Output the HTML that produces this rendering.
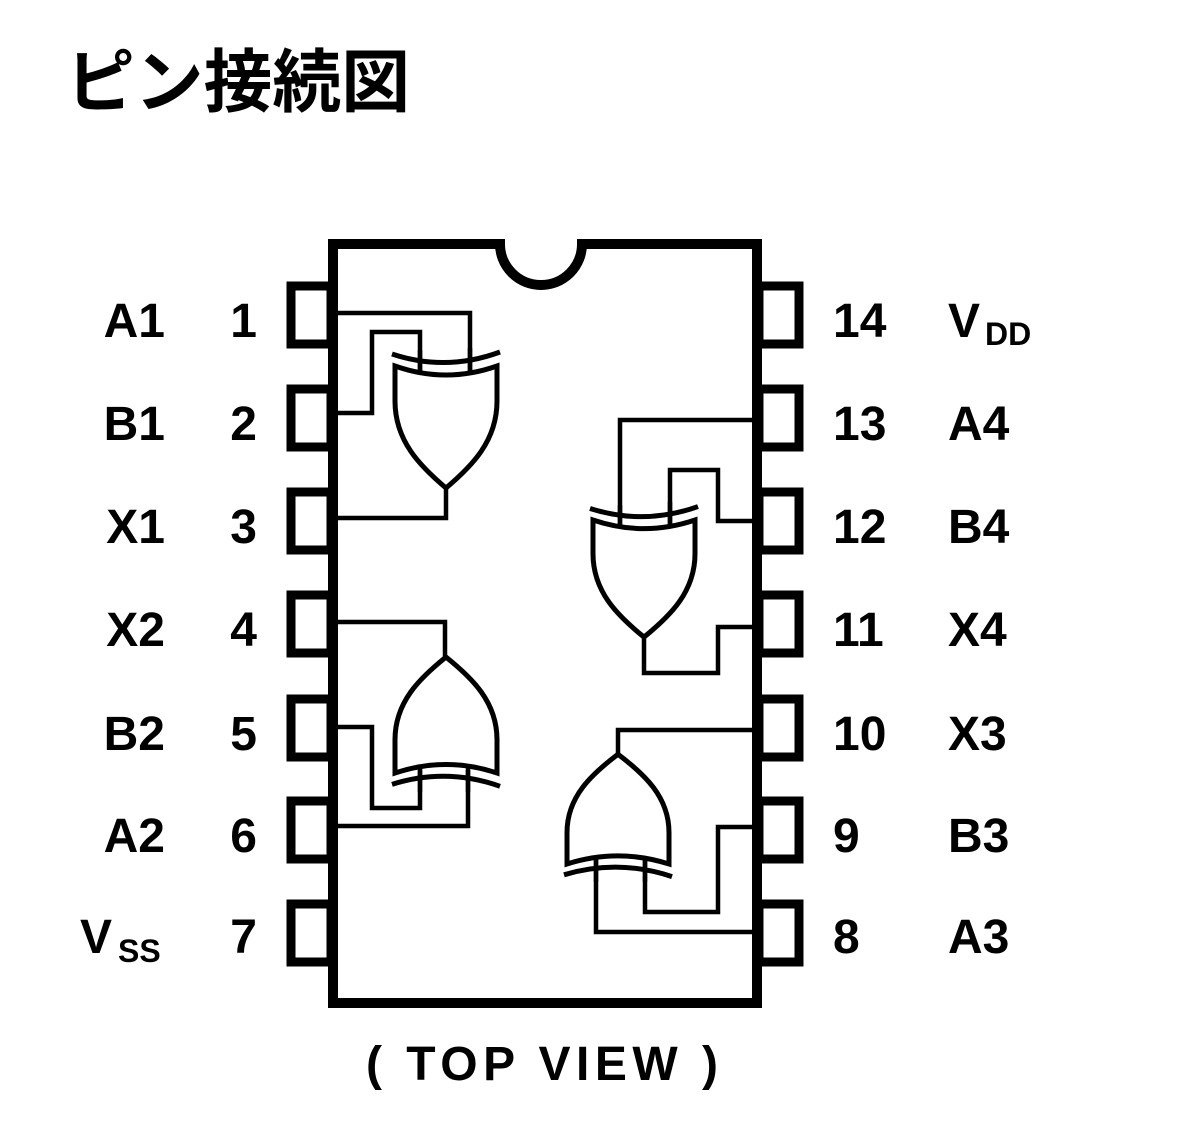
<!DOCTYPE html>
<html><head><meta charset="utf-8"><style>
html,body{margin:0;padding:0;background:#fff}
svg{display:block}
text{font-family:"Liberation Sans","Noto Sans CJK JP",sans-serif;fill:#000}
</style></head><body>
<svg width="1200" height="1146" viewBox="0 0 1200 1146" xmlns="http://www.w3.org/2000/svg">
<text x="66" y="106" font-size="69" font-weight="bold" font-family="'Noto Sans CJK JP',sans-serif" textLength="344" lengthAdjust="spacingAndGlyphs">ピン接続図</text>

<path d="M333,244 L500,244 A41,41 0 0 0 582,244 L757,244 L757,1003 L333,1003 Z" fill="none" stroke="#000" stroke-width="10"/>

<g fill="none" stroke="#000" stroke-width="9">
<rect x="291" y="286" width="40" height="58"/>
<rect x="291" y="389" width="40" height="58"/>
<rect x="291" y="492" width="40" height="58"/>
<rect x="291" y="595" width="40" height="58"/>
<rect x="291" y="699" width="40" height="58"/>
<rect x="291" y="801" width="40" height="58"/>
<rect x="291" y="904" width="40" height="58"/>
<rect x="759" y="286" width="40" height="58"/>
<rect x="759" y="389" width="40" height="58"/>
<rect x="759" y="492" width="40" height="58"/>
<rect x="759" y="595" width="40" height="58"/>
<rect x="759" y="699" width="40" height="58"/>
<rect x="759" y="801" width="40" height="58"/>
<rect x="759" y="904" width="40" height="58"/>
</g>

<g fill="none" stroke="#000" stroke-width="4.5">
<polyline points="335,313 470,313 470,372"/>
<polyline points="335,413 372,413 372,332 420,332 420,374"/>
<polyline points="446,488 446,518 335,518"/>
<polyline points="335,622 445,622 445,657"/>
<polyline points="335,727 372,727 372,808 420,808 420,768"/>
<polyline points="335,826 468,826 468,768"/>
<polyline points="757,420 620,420 620,526"/>
<polyline points="757,521 718,521 718,470 670,470 670,526"/>
<polyline points="644,637 644,673 718,673 718,627 757,627"/>
<polyline points="757,730 618,730 618,754"/>
<polyline points="596,858 596,932 757,932"/>
<polyline points="645,858 645,912 718,912 718,827 757,827"/>
</g>

<defs>
<g id="xg">
<path d="M0,0 L0,35 C0,75 25,100 51,122 C77,100 102,75 102,35 L102,0 Q51,18 0,0 Z" fill="#fff" stroke="#000" stroke-width="5" vector-effect="non-scaling-stroke"/>
<path d="M-3,-12 Q51,6 105,-14" fill="none" stroke="#000" stroke-width="5" vector-effect="non-scaling-stroke"/>
</g>
</defs>
<use href="#xg" transform="translate(395,366)"/>
<use href="#xg" transform="translate(395,773) scale(1,-0.95)"/>
<use href="#xg" transform="translate(593,520) scale(1,0.96)"/>
<use href="#xg" transform="translate(567,864) scale(1,-0.9)"/>
<g fill="none" stroke="#000" stroke-width="4.5">
<line x1="420" y1="350" x2="420" y2="374"/><line x1="470" y1="348" x2="470" y2="372"/>
<line x1="420" y1="770" x2="420" y2="792"/><line x1="468" y1="770" x2="468" y2="792"/>
<line x1="620" y1="505" x2="620" y2="528"/><line x1="670" y1="502" x2="670" y2="526"/>
<line x1="596" y1="860" x2="596" y2="882"/><line x1="645" y1="860" x2="645" y2="882"/>
</g>

<g font-size="48" font-weight="bold" text-anchor="end">
<text x="165" y="337">A1</text><text x="257" y="337">1</text>
<text x="165" y="440">B1</text><text x="257" y="440">2</text>
<text x="165" y="543">X1</text><text x="257" y="543">3</text>
<text x="165" y="646">X2</text><text x="257" y="646">4</text>
<text x="165" y="750">B2</text><text x="257" y="750">5</text>
<text x="165" y="852">A2</text><text x="257" y="852">6</text>
<text x="257" y="953">7</text>
</g>
<text x="80" y="953" font-size="48" font-weight="bold">V</text>
<text x="118" y="962" font-size="32" font-weight="bold">SS</text>

<g font-size="48" font-weight="bold">
<text x="833" y="337">14</text>
<text x="833" y="440">13</text><text x="948" y="440">A4</text>
<text x="833" y="543">12</text><text x="948" y="543">B4</text>
<text x="833" y="646">11</text><text x="948" y="646">X4</text>
<text x="833" y="750">10</text><text x="948" y="750">X3</text>
<text x="833" y="852">9</text><text x="948" y="852">B3</text>
<text x="833" y="953">8</text><text x="948" y="953">A3</text>
<text x="948" y="337">V</text>
</g>
<text x="985" y="345" font-size="32" font-weight="bold">DD</text>

<text x="366" y="1080" font-size="48" font-weight="bold" textLength="352" lengthAdjust="spacing">( TOP VIEW )</text>
</svg>
</body></html>
